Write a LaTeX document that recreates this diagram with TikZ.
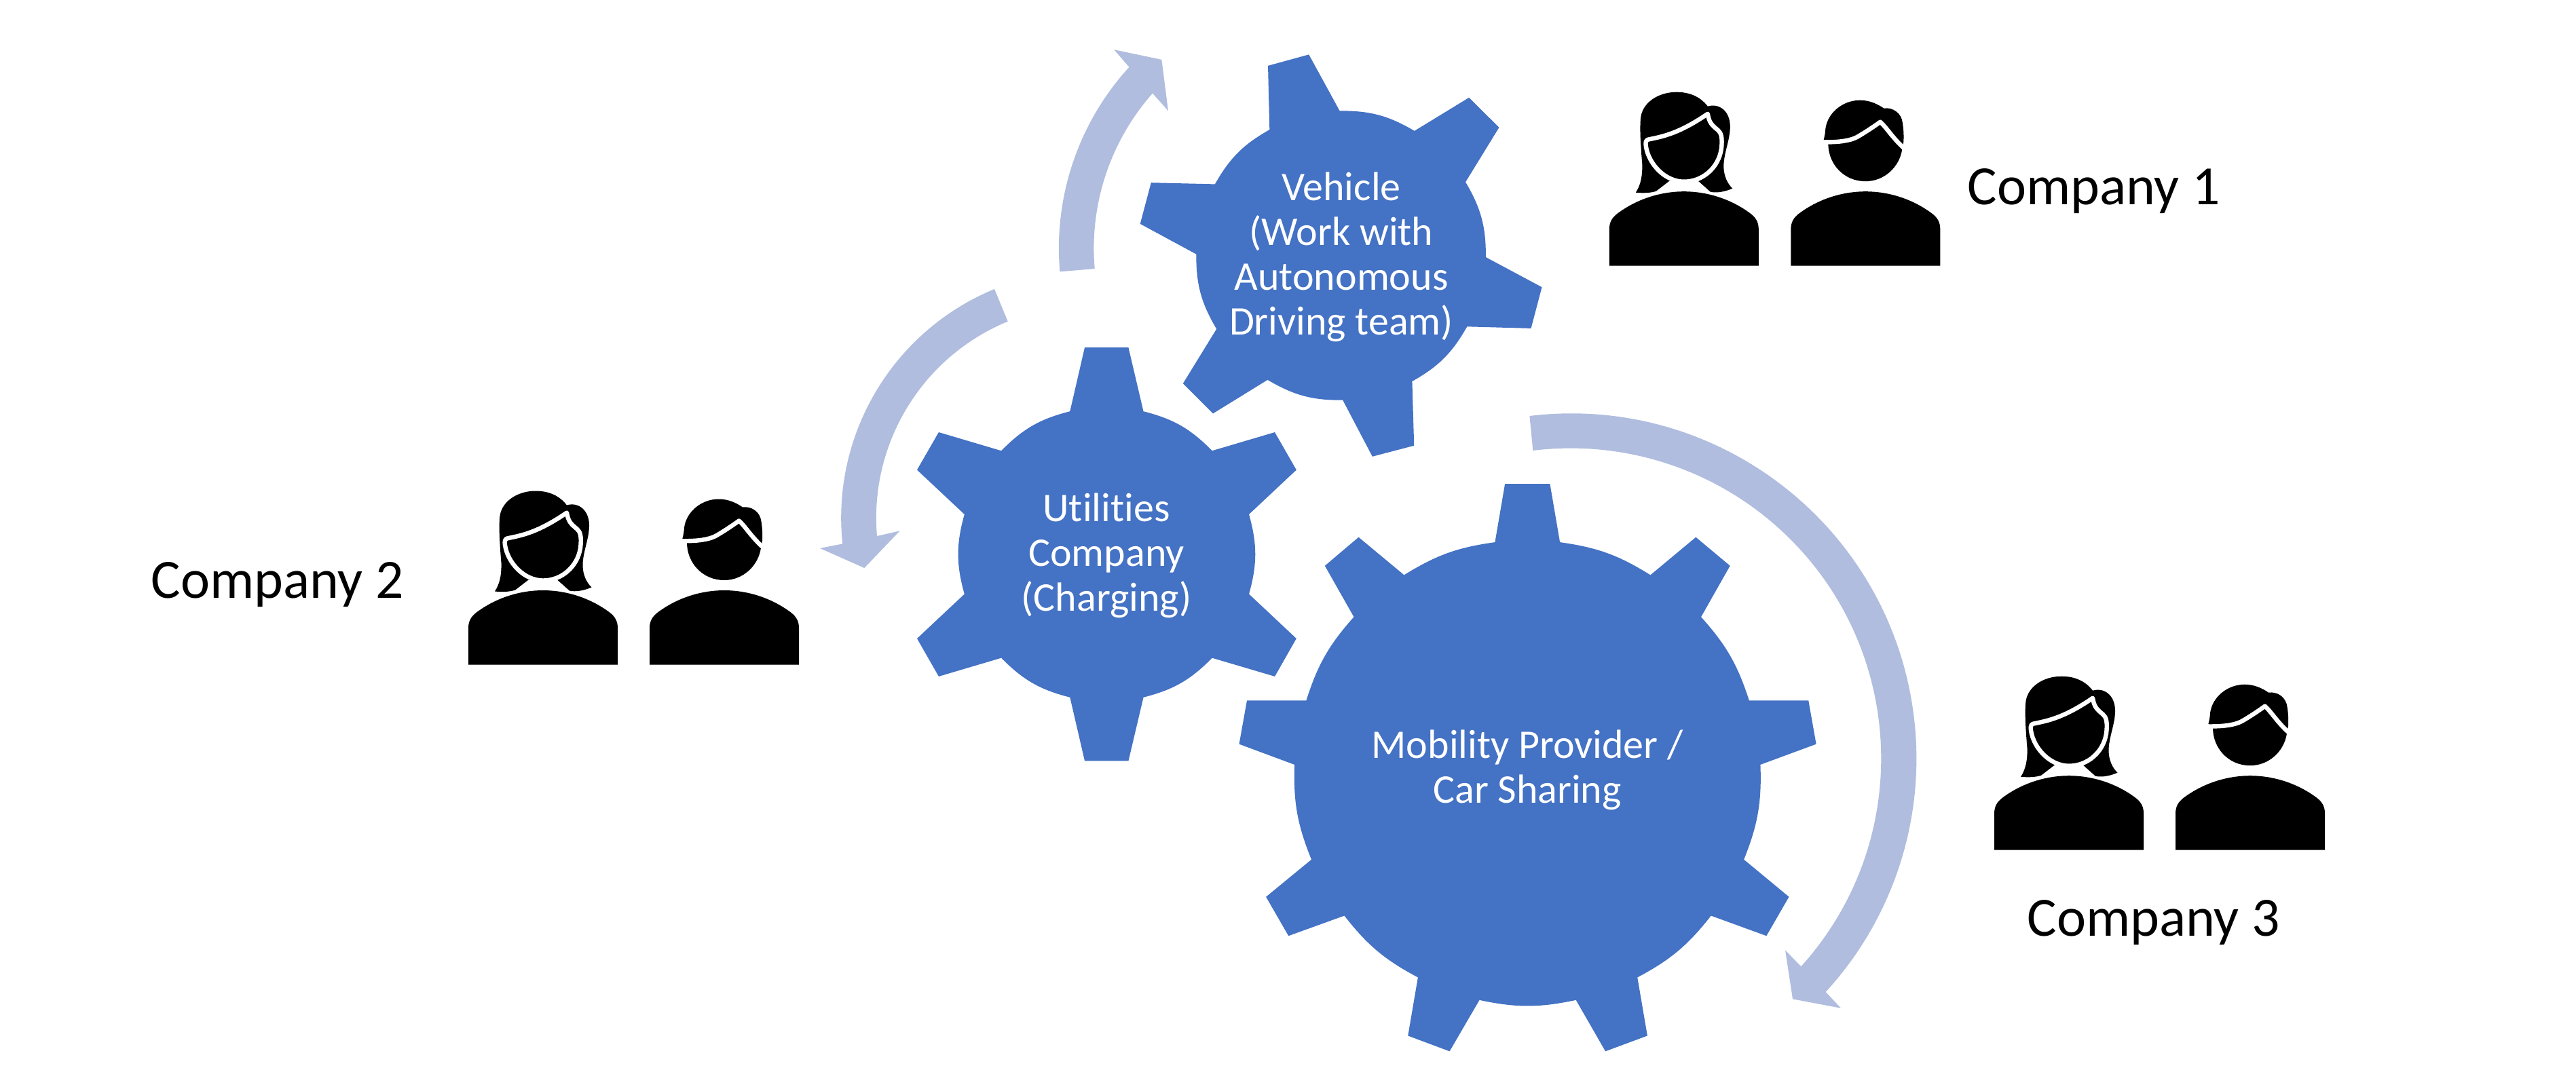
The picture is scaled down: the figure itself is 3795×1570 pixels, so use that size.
\documentclass[tikz,border=0pt]{standalone}
\usepackage{fontspec}
\setmainfont[Ligatures=CommonOff]{Carlito}
\usepackage{xcolor}
\definecolor{gearcol}{HTML}{4472C4}
\definecolor{turncol}{HTML}{B0BDDF}
\tikzset{
  gearfill/.style={fill=gearcol},
  turnfill/.style={fill=turncol},
  gearlabel/.style={text=white,align=center,font=\fontsize{15bp}{16.5bp}\selectfont},
  colabel/.style={anchor=base west,inner sep=0pt,font=\fontsize{20.4bp}{24bp}\selectfont},
  shoulders/.pic={
    \fill[black] (0,0) -- (0,-54) .. controls (0,-64) and (4,-71) .. (12,-77)
      .. controls (40,-98) and (75,-109.5) .. (110,-109.5)
      .. controls (145,-109.5) and (180,-98) .. (208,-77)
      .. controls (216,-71) and (220,-64) .. (220,-54) -- (220,0) -- cycle;
  },
  woman/.pic={
    \pic {shoulders};
    \fill[black] (39,-108) .. controls (47,-120) and (49,-135) .. (48.5,-150)
      .. controls (46,-180) and (45,-200) .. (46,-215)
      .. controls (47,-240) and (72,-256) .. (99,-256)
      .. controls (120,-256) and (135,-248) .. (145,-235)
      .. controls (162,-240) and (178,-228) .. (178,-205)
      .. controls (178,-185) and (168,-165) .. (168.5,-145)
      .. controls (169,-132) and (174,-121) .. (181.5,-114)
      .. controls (170,-109) and (158,-107) .. (149,-109) -- (131,-125) -- (88.5,-125) -- (69,-110)
      .. controls (60,-107) and (48,-107) .. (39,-108) -- cycle;
    \filldraw[fill=black,draw=white,line width=1.6bp,line join=round] (57,-186)
      .. controls (75,-190) and (100,-193) .. (145,-224)
      .. controls (147,-212) and (150,-208) .. (160,-200)
      .. controls (165,-196) and (167,-188) .. (165,-172)
      .. controls (161,-145) and (138,-124) .. (110,-124)
      .. controls (82,-124) and (58,-150) .. (54,-176)
      .. controls (53,-182) and (54,-185) .. (57,-186) -- cycle;
  },
  man/.pic={
    \pic {shoulders};
    \fill[black] (48.4,-186) .. controls (50,-192) and (50.7,-197) .. (51,-202)
      .. controls (54,-225) and (76,-244) .. (102,-244)
      .. controls (115,-244) and (127,-239) .. (137,-232)
      .. controls (150,-234) and (163,-225) .. (164.5,-211)
      .. controls (166,-202) and (166.5,-192) .. (166,-183) -- (164,-172)
      .. controls (160,-145) and (137,-124.5) .. (110,-124.5)
      .. controls (78,-124.5) and (55,-150) .. (55,-180) -- cycle;
    \draw[white,line width=1.6bp,line join=round] (46,-182.3)
      .. controls (65,-182) and (85,-183) .. (98,-190)
      .. controls (110,-197) and (122,-205) .. (131.7,-212)
      .. controls (140,-205) and (150,-188) .. (168,-172);
  },
}

\begin{document}
\begin{tikzpicture}[x=0.25bp,y=-0.25bp,line join=bevel]
  \useasboundingbox (0,0) rectangle (3795,1570);
  % Gear: vehicle
  \fill[gearfill] (1870.3,191.1) -- (1868,96.9) -- (1928.2,80.4) -- (1973.6,163.4)
    to[bend left=15.5] (2083.8,192.9) -- (2164.2,143.8) -- (2208.4,187.9) -- (2159,268.3)
    to[bend left=15.5] (2188.9,379) -- (2271.5,423.2) -- (2255.5,483.9) -- (2161.3,481.3)
    to[bend left=15.5] (2080.4,562) -- (2083.2,656.7) -- (2021.8,672.8) -- (1978.2,589.7)
    to[bend left=15.5] (1867.4,559.8) -- (1787,609.4) -- (1742.8,565.2) -- (1792.2,484.8)
    to[bend left=15.5] (1762.3,374.6) -- (1679.7,329.9) -- (1695.8,269.2) -- (1789.9,271.4)
    to[bend left=15.5] (1870.3,191.1) -- cycle;
  % Gear: utilities
  \fill[gearfill] (1576.3,606.2) -- (1598,512.1) -- (1662.4,512.1) -- (1684.5,606.2)
    to[bend left=15.6] (1785.7,664.3) -- (1878,637) -- (1909.8,692.5) -- (1840,758)
    to[bend left=15.6] (1840,875.5) -- (1909.8,941) -- (1878,996.9) -- (1785.7,969.6)
    to[bend left=15.6] (1684.5,1027.7) -- (1662.4,1121.4) -- (1598,1121.4) -- (1576.3,1027.7)
    to[bend left=15.6] (1475.1,969.6) -- (1382.9,996.9) -- (1351,941) -- (1420.8,875.5)
    to[bend left=15.6] (1420.8,758) -- (1351,692.5) -- (1382.9,637) -- (1475.1,664.3)
    to[bend left=15.6] (1576.3,606.2) -- cycle;
  % Gear: mobility
  \fill[gearfill] (2202.4,799.1) -- (2217.1,713.2) -- (2283.4,713.2) -- (2298.1,799.1)
    to[bend left=12] (2431.4,847.4) -- (2498.3,791.7) -- (2548.7,833.8) -- (2506,909.2)
    to[bend left=12] (2576.8,1032.3) -- (2664.2,1032.3) -- (2675.6,1096.6) -- (2593.4,1126.9)
    to[bend left=12] (2569.1,1266.7) -- (2635.5,1321.7) -- (2602.3,1379.2) -- (2520.7,1349.5)
    to[bend left=12] (2412.2,1440.4) -- (2426.9,1526.4) -- (2365.1,1549.3) -- (2321.7,1473.8)
    to[bend left=12] (2179.5,1473.8) -- (2135.5,1549.3) -- (2074.2,1526.4) -- (2088.9,1440.4)
    to[bend left=12] (1980.5,1349.5) -- (1898.2,1379.2) -- (1865.1,1321.7) -- (1932,1266.7)
    to[bend left=12] (1907.1,1126.9) -- (1825.5,1096.6) -- (1837,1032.3) -- (1924.4,1032.3)
    to[bend left=12] (1994.5,909.2) -- (1951.8,833.8) -- (2001.5,791.7) -- (2068.5,847.4)
    to[bend left=12] (2202.4,799.1) -- cycle;
  % Arrow: vehicle turn
  \fill[turnfill] (1561.4,400.4) arc[start angle=185,end angle=137.6,radius=99bp]
    -- (1641.2,73.2) -- (1711.3,87.9) -- (1721,163.4) -- (1698,137.5)
    arc[start angle=138.5,end angle=185,radius=86.2bp] -- cycle;
  % Arrow: utilities turn
  \fill[turnfill] (1465,426) arc[start angle=112.4,end angle=186,radius=91.2bp]
    -- (1208,808) -- (1273.3,837) -- (1325.7,782.3) -- (1292,790)
    arc[start angle=184.9,end angle=112.4,radius=78.3bp] -- cycle;
  % Arrow: mobility turn
  \fill[turnfill] (2253.4,613) arc[start angle=96.9,end angle=-42.5,radius=127.2bp]
    -- (2712,1485.7) -- (2641,1472.3) -- (2630,1400.3) -- (2653.3,1424.3)
    arc[start angle=-42.1,end angle=97,radius=114.3bp] -- cycle;
  % Node: gear labels
  \node[gearlabel] (veh) at (1976,379) {Vehicle\\(Work with\\Autonomous\\Driving team)};
  \node[gearlabel] (util) at (1630,819) {Utilities\\Company\\(Charging)};
  \node[gearlabel] (mob) at (2250,1135) {Mobility Provider /\\Car Sharing};
  % Node: company 1
  \pic (w1) at (2370.8,391.7) {woman};
  \pic (m1) at (2638.3,391.7) {man};
  \node[colabel] (co1) at (2898,301) {Company 1};
  % Node: company 2
  \pic (w2) at (690,979.5) {woman};
  \pic (m2) at (957,979.5) {man};
  \node[colabel] (co2) at (222,881) {Company 2};
  % Node: company 3
  \pic (w3) at (2938,1252.7) {woman};
  \pic (m3) at (3205,1252.7) {man};
  \node[colabel] (co3) at (2986,1379) {Company 3};
\end{tikzpicture}
\end{document}
